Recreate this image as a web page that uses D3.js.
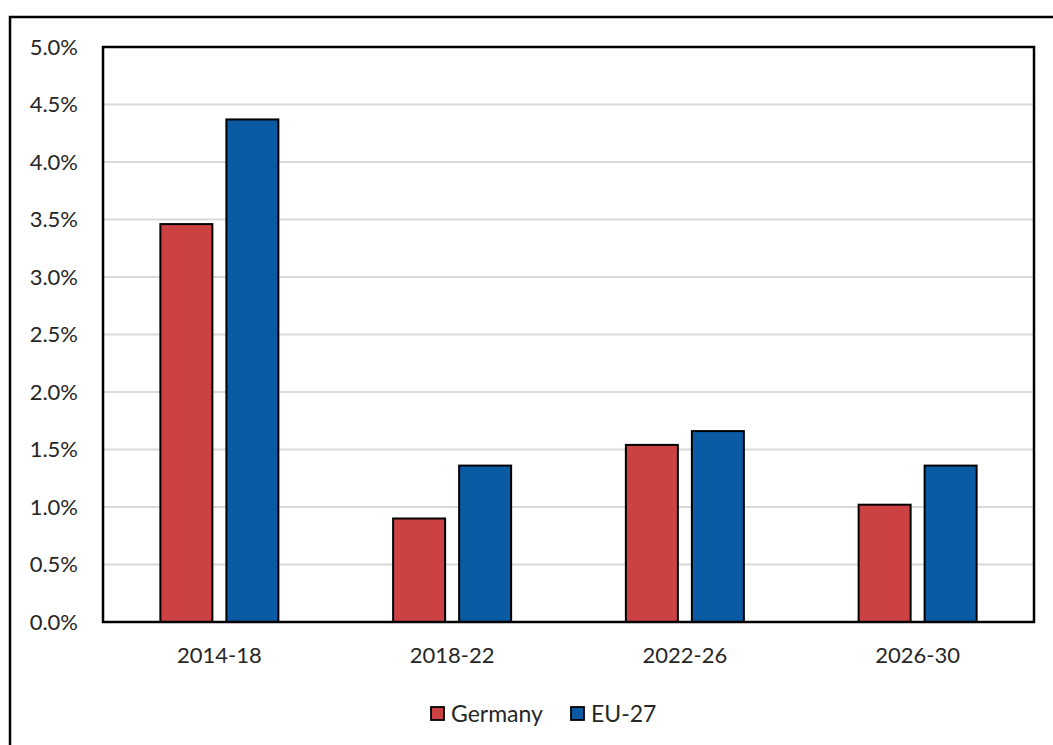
<!DOCTYPE html>
<html>
<head>
<meta charset="utf-8">
<script src="https://cdn.jsdelivr.net/npm/d3@7"></script>
<style>
  html, body { margin: 0; padding: 0; background: #fff; }
  svg { display: block; }
  text { font-family: Lato, "Noto Sans", sans-serif; fill: #262626; }
</style>
</head>
<body>
<svg id="chart" width="1053" height="745"></svg>
<script>
const categories = ["2014-18", "2018-22", "2022-26", "2026-30"];
const seriesNames = ["Germany", "EU-27"];
const germany = [3.46, 0.90, 1.54, 1.02];
const eu27 = [4.37, 1.36, 1.66, 1.36];
const yTicks = [0, 0.5, 1.0, 1.5, 2.0, 2.5, 3.0, 3.5, 4.0, 4.5, 5.0];
const colors = ["#CC4242", "#0A5AA4"];

const svg = d3.select("#chart");
const W = 1053, H = 745;
const plot = { left: 103, top: 47, right: 1034, bottom: 622 };

// outer frame
svg.append("rect")
  .attr("x", 10).attr("y", 17)
  .attr("width", W + 20).attr("height", H + 20)
  .attr("fill", "none").attr("stroke", "#000").attr("stroke-width", 2.5);

const y = d3.scaleLinear().domain([0, 5]).range([plot.bottom, plot.top]);
const x0 = d3.scaleBand().domain(categories).range([plot.left, plot.right]).padding(0);
const groupW = 118;
const x1 = d3.scaleBand().domain(seriesNames)
  .range([-groupW / 2, groupW / 2]).paddingInner(14 / 66).paddingOuter(0);

// gridlines
svg.append("g")
  .selectAll("line")
  .data(yTicks.filter(d => d > 0 && d < 5))
  .join("line")
  .attr("x1", plot.left).attr("x2", plot.right)
  .attr("y1", d => y(d)).attr("y2", d => y(d))
  .attr("stroke", "#d9d9d9").attr("stroke-width", 2);

// y axis labels
const yAxis = d3.axisLeft(y).tickValues(yTicks).tickSize(0).tickPadding(25)
  .tickFormat(d => d.toFixed(1) + "%");
const gy = svg.append("g").attr("transform", `translate(${plot.left},0)`).call(yAxis);
gy.select(".domain").remove();
gy.selectAll("text").style("font-size", "22px").attr("fill", "#262626");

// bars
const data = categories.map((c, i) => ({ cat: c, vals: [germany[i], eu27[i]] }));
const groups = svg.append("g").selectAll("g")
  .data(data).join("g")
  .attr("transform", d => `translate(${x0(d.cat) + x0.bandwidth() / 2},0)`);
groups.selectAll("rect")
  .data(d => d.vals.map((v, j) => ({ name: seriesNames[j], v, j })))
  .join("rect")
  .attr("x", d => x1(d.name))
  .attr("width", x1.bandwidth())
  .attr("y", d => y(d.v))
  .attr("height", d => y(0) - y(d.v))
  .attr("fill", d => colors[d.j])
  .attr("stroke", "#000").attr("stroke-width", 2);

// plot border
svg.append("rect")
  .attr("x", plot.left).attr("y", plot.top)
  .attr("width", plot.right - plot.left).attr("height", plot.bottom - plot.top)
  .attr("fill", "none").attr("stroke", "#000").attr("stroke-width", 2.5);

// x axis labels
const xAxis = d3.axisBottom(x0).tickSize(0).tickPadding(25);
const gx = svg.append("g").attr("transform", `translate(0,${plot.bottom})`).call(xAxis);
gx.select(".domain").remove();
gx.selectAll("text").style("font-size", "22px").attr("fill", "#262626");

// legend
const legendItems = [
  { name: "Germany", x: 431 },
  { name: "EU-27", x: 571 }
];
const lg = svg.append("g").selectAll("g").data(legendItems).join("g")
  .attr("transform", d => `translate(${d.x},707)`);
lg.append("rect").attr("width", 13).attr("height", 13)
  .attr("fill", (d, i) => colors[i]).attr("stroke", "#000").attr("stroke-width", 1.8);
lg.append("text").attr("x", 20).attr("y", 7).attr("dy", "0.35em")
  .style("font-size", "23px").text(d => d.name);
</script>
</body>
</html>
